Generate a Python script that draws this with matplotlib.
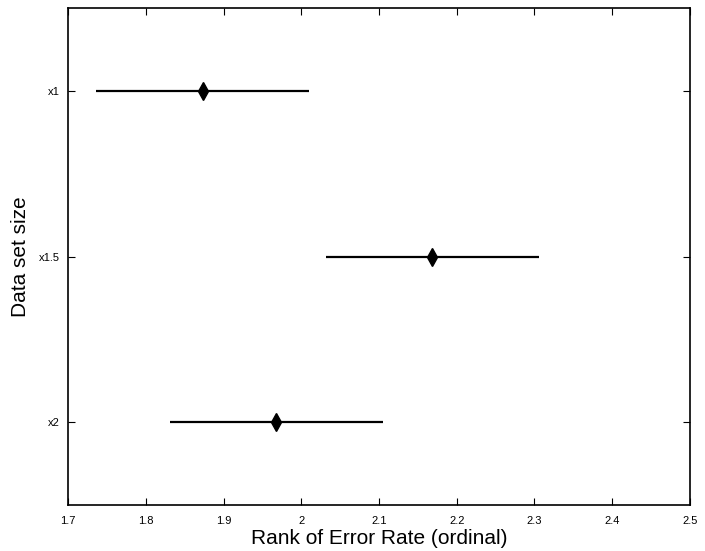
import matplotlib
matplotlib.use("Agg")
import matplotlib.pyplot as plt

groups = ["x1", "x1.5", "x2"]
means = [1.873, 2.168, 1.968]
lower = [1.736, 2.032, 1.831]
upper = [2.010, 2.306, 2.105]
xticks = [1.7, 1.8, 1.9, 2.0, 2.1, 2.2, 2.3, 2.4, 2.5]
xticklabels = ["1.7", "1.8", "1.9", "2", "2.1", "2.2", "2.3", "2.4", "2.5"]

plt.rcParams['font.family'] = ['Liberation Sans', 'DejaVu Sans']

fig = plt.figure(figsize=(7.05, 5.51), dpi=100)
ax = fig.add_axes([68/705, 1 - 505/551, (690-68)/705, (505-8)/551])

ypos = list(range(1, len(groups) + 1))
for y, lo, hi, m in zip(ypos, lower, upper, means):
    ax.plot([lo, hi], [y, y], color='black', lw=1.6, solid_capstyle='butt')
    ax.plot([m], [y], marker='d', color='black', markersize=9, markeredgewidth=1)

ax.set_xlim(1.7, 2.5)
ax.set_ylim(3.5, 0.5)
ax.set_xticks(xticks)
ax.set_xticklabels(xticklabels, fontsize=8)
ax.set_yticks(ypos)
ax.set_yticklabels(groups, fontsize=8)
ax.tick_params(direction='in', top=True, right=True, length=5, width=0.8)
ax.tick_params(axis='x', pad=8)
ax.tick_params(axis='y', pad=6)
for s in ax.spines.values():
    s.set_linewidth(1.2)

ax.set_xlabel("Rank of Error Rate (ordinal)", fontsize=15, labelpad=2)
ax.set_ylabel("Data set size", fontsize=15, labelpad=6)

fig.savefig("out.png", dpi=100)
